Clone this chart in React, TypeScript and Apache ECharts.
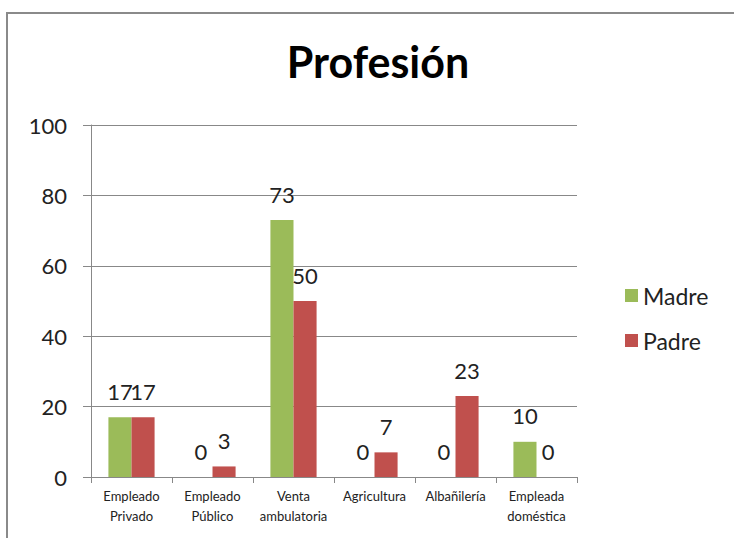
import React, { useEffect, useRef } from "react";
import * as echarts from "echarts";

const categories = [
  "Empleado\nPrivado",
  "Empleado\nPúblico",
  "Venta\nambulatoria",
  "Agricultura",
  "Albañilería",
  "Empleada\ndoméstica",
];
const madre = [17, 0, 73, 0, 0, 10];
const padre = [17, 3, 50, 7, 23, 0];
const yTicks = { min: 0, max: 100, interval: 20 };

const FONT = "Lato, 'Open Sans', sans-serif";

export default function App() {
  const ref = useRef<HTMLDivElement>(null);
  useEffect(() => {
    const chart = echarts.init(ref.current!, null, { renderer: "svg" });
    const labelStyle = {
      show: true,
      position: "top" as const,
      distance: 15,
      fontSize: 22,
      color: "#222",
      fontFamily: FONT,
    };
    chart.setOption({
      animation: false,
      backgroundColor: "#fff",
      title: {
        text: "Profesión",
        left: 373,
        top: 35,
        textAlign: "center",
        textStyle: { fontSize: 43, fontWeight: "bold", color: "#000", fontFamily: FONT },
      },
      graphic: [
        {
          type: "rect",
          shape: { x: 7, y: 13, width: 760, height: 560 },
          style: { fill: "none", stroke: "#8a8a8a", lineWidth: 2 },
          silent: true,
        },
      ],
      legend: {
        orient: "vertical",
        left: 620,
        top: 279,
        itemWidth: 13,
        itemHeight: 13,
        itemGap: 22,
        icon: "rect",
        textStyle: { fontSize: 23, color: "#222", fontFamily: FONT },
        data: ["Madre", "Padre"],
      },
      grid: { left: 91, right: 157, top: 125, bottom: 61, containLabel: false },
      xAxis: {
        type: "category",
        data: categories,
        axisLine: { lineStyle: { color: "#888", width: 1 } },
        axisTick: { show: true, length: 6, lineStyle: { color: "#888" } },
        axisLabel: {
          fontSize: 13,
          color: "#222",
          fontFamily: FONT,
          lineHeight: 20,
          margin: 9,
          interval: 0,
        },
      },
      yAxis: {
        type: "value",
        min: yTicks.min,
        max: yTicks.max,
        interval: yTicks.interval,
        axisLine: { show: true, lineStyle: { color: "#888", width: 1 } },
        axisTick: { show: true, length: 8, lineStyle: { color: "#888" } },
        splitLine: { show: true, lineStyle: { color: "#888", width: 1 } },
        axisLabel: { fontSize: 22, color: "#222", fontFamily: FONT, margin: 24 },
      },
      series: [
        {
          name: "Madre",
          type: "bar",
          data: madre,
          itemStyle: { color: "#9BBB59" },
          barGap: "0%",
          barCategoryGap: "43%",
          label: labelStyle,
        },
        {
          name: "Padre",
          type: "bar",
          data: padre,
          itemStyle: { color: "#C0504D" },
          barGap: "0%",
          barCategoryGap: "43%",
          label: labelStyle,
        },
      ],
    });
    return () => chart.dispose();
  }, []);
  return <div ref={ref} style={{ width: 734, height: 538, position: "absolute", left: 0, top: 0 }} />;
}
